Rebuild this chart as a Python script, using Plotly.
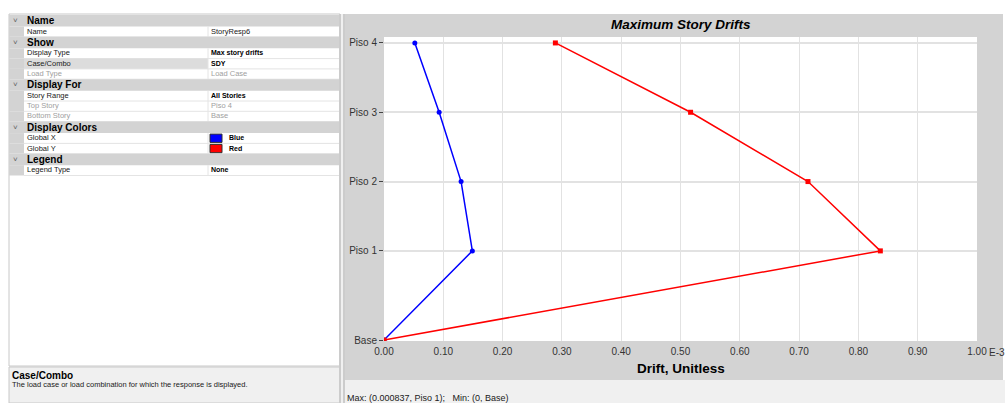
import plotly.graph_objects as go

# ---------------- data ----------------
stories = ["Base", "Piso 1", "Piso 2", "Piso 3", "Piso 4"]
elevations = [0.0, 3.6, 6.4, 9.2, 12.0]          # story elevations (m)
drift_x = [0.0, 0.149, 0.130, 0.093, 0.052]      # Global X, E-3
drift_y = [0.0, 0.837, 0.715, 0.517, 0.289]      # Global Y, E-3
x_ticks = [0.0, 0.1, 0.2, 0.3, 0.4, 0.5, 0.6, 0.7, 0.8, 0.9, 1.0]
x_ticktext = ["0.00", "0.10", "0.20", "0.30", "0.40", "0.50", "0.60", "0.70", "0.80", "0.90", "1.00"]

grid_rows = [
    ("h", "Name", None, None),
    ("r", "Name", "StoryResp6", "normal"),
    ("h", "Show", None, None),
    ("r", "Display Type", "Max story drifts", "bold"),
    ("r", "Case/Combo", "SDY", "bold-sel"),
    ("r", "Load Type", "Load Case", "disabled"),
    ("h", "Display For", None, None),
    ("r", "Story Range", "All Stories", "bold"),
    ("r", "Top Story", "Piso 4", "disabled"),
    ("r", "Bottom Story", "Base", "disabled"),
    ("h", "Display Colors", None, None),
    ("r", "Global X", "Blue", "swatch:#0000ff"),
    ("r", "Global Y", "Red", "swatch:#ff0000"),
    ("h", "Legend", None, None),
    ("r", "Legend Type", "None", "bold"),
]

W, H = 1005, 403
FONT = "Liberation Sans"


def px(x):
    return x / W


def py(y):
    return 1 - y / H


shapes = []
annotations = []


def rect(x0, y0, x1, y1, fill, line=None, lw=1):
    shapes.append(dict(type="rect", xref="paper", yref="paper",
                       x0=px(x0), x1=px(x1), y0=py(y1), y1=py(y0),
                       fillcolor=fill, layer="below",
                       line=dict(color=line or fill, width=lw if line else 0)))


def hline(x0, x1, y, color, w=1):
    shapes.append(dict(type="line", xref="paper", yref="paper",
                       x0=px(x0), x1=px(x1), y0=py(y), y1=py(y),
                       layer="below", line=dict(color=color, width=w)))


def vline(x, y0, y1, color, w=1):
    shapes.append(dict(type="line", xref="paper", yref="paper",
                       x0=px(x), x1=px(x), y0=py(y0), y1=py(y1),
                       layer="below", line=dict(color=color, width=w)))


def text(t, x, y, size, color="#000000", weight="normal", style="normal",
         xanchor="left", yanchor="middle"):
    annotations.append(dict(text=t, x=px(x), y=py(y), xref="paper", yref="paper",
                            showarrow=False, xanchor=xanchor, yanchor=yanchor,
                            borderpad=0,
                            font=dict(family=FONT, size=size, color=color,
                                      weight=weight, style=style)))


# ---------- left property panel ----------
GX0, GX1, GSPLIT, GUT = 9, 340, 208, 24
rect(GX0, 14, GX1, 366, "#ffffff", "#c8c8c8")
y = 15.0
for kind, label, value, style in grid_rows:
    if kind == "h":
        h = 11.5
        rect(GX0, y, GX1, y + h, "#d3d3d3")
        text("˅", 12, y + h / 2, 8, "#606060")
        text(label, 26, y + h / 2, 10, "#000000", weight="bold")
    else:
        h = 10.3
        rect(GX0, y, GUT, y + h, "#d3d3d3")
        if style == "bold-sel":
            rect(GUT, y, GSPLIT, y + h, "#dcdcdc")
        hline(GUT, GX1, y + h, "#e4e4e4")
        vline(GSPLIT, y, y + h, "#e4e4e4")
        lab_col = "#a0a0a0" if style == "disabled" else "#202020"
        text(label, 26, y + h / 2 - 0.5, 7.5, lab_col)
        if style.startswith("swatch"):
            col = style.split(":")[1]
            rect(210, y + 1, 222, y + h - 1, col, "#303030")
            text(value, 228, y + h / 2 - 0.5, 7, "#000000", weight="bold")
        elif style == "disabled":
            text(value, 210, y + h / 2 - 0.5, 7.5, "#a0a0a0")
        elif style == "normal":
            text(value, 210, y + h / 2 - 0.5, 7.5, "#202020")
        else:
            text(value, 210, y + h / 2 - 0.5, 7, "#000000", weight="bold")
    y += h

# description box
rect(GX0, 367, GX1, 403, "#f0f0f0", "#c8c8c8")
text("Case/Combo", 11, 375, 10, "#000000", weight="bold")
text("The load case or load combination for which the response is displayed.",
     11, 384.5, 7.5, "#202020")

# splitter
rect(339, 14, 345, 403, "#f0f0f0")
vline(340, 14, 403, "#a8a8a8")
vline(344, 14, 403, "#a8a8a8")

# ---------- chart frame ----------
rect(345, 14, 1003, 380, "#d3d3d3")
rect(345, 380, 1005, 403, "#f0f0f0")
rect(384, 37, 977, 341, "#ffffff")

mx_i = max(range(len(drift_y)), key=lambda i: drift_y[i])
mn_i = min(range(len(drift_y)), key=lambda i: drift_y[i])
status = "Max: ({:.6f}, {});   Min: ({:g}, {})".format(
    drift_y[mx_i] * 1e-3, stories[mx_i], drift_y[mn_i] * 1e-3, stories[mn_i])
text(status, 346, 398, 9, "#202020")

text("Maximum Story Drifts", 680.5, 24, 13.5, "#000000", weight="bold", style="italic",
     xanchor="center")
text("Drift, Unitless", 680.5, 368, 13.5, "#000000", weight="bold", xanchor="center")
text("E-3", 988, 352, 10, "#333333")

fig = go.Figure()
fig.add_trace(go.Scatter(x=drift_x, y=elevations, mode="lines+markers",
                         line=dict(color="#0000ff", width=1.5),
                         marker=dict(color="#0000ff", size=5, symbol="circle"),
                         name="Global X", hoverinfo="x+y"))
fig.add_trace(go.Scatter(x=drift_y, y=elevations, mode="lines+markers",
                         line=dict(color="#ff0000", width=1.5),
                         marker=dict(color="#ff0000", size=5, symbol="square"),
                         name="Global Y", hoverinfo="x+y"))

fig.update_layout(
    width=W, height=H, autosize=False,
    margin=dict(l=0, r=0, t=0, b=0, pad=0, autoexpand=False),
    paper_bgcolor="#ffffff",
    plot_bgcolor="#ffffff",
    showlegend=False,
    shapes=shapes,
    annotations=annotations,
    xaxis=dict(domain=[px(384), px(977)], range=[0, 1.0], automargin=False,
               tickvals=x_ticks, ticktext=x_ticktext, ticklabelstandoff=3,
               showgrid=True, gridcolor="#e2e2e2", gridwidth=1,
               zeroline=False, showline=False, ticks="",
               tickfont=dict(family=FONT, size=10, color="#333333")),
    yaxis=dict(domain=[py(341), py(37)], range=[-0.04, 12.24], automargin=False,
               tickvals=elevations, ticktext=stories,
               showgrid=True, gridcolor="#e2e2e2", gridwidth=1.5,
               zeroline=False, showline=False,
               ticks="outside", ticklen=4, tickcolor="#444444",
               tickfont=dict(family=FONT, size=10, color="#333333")),
)

fig.write_html("out.html")
